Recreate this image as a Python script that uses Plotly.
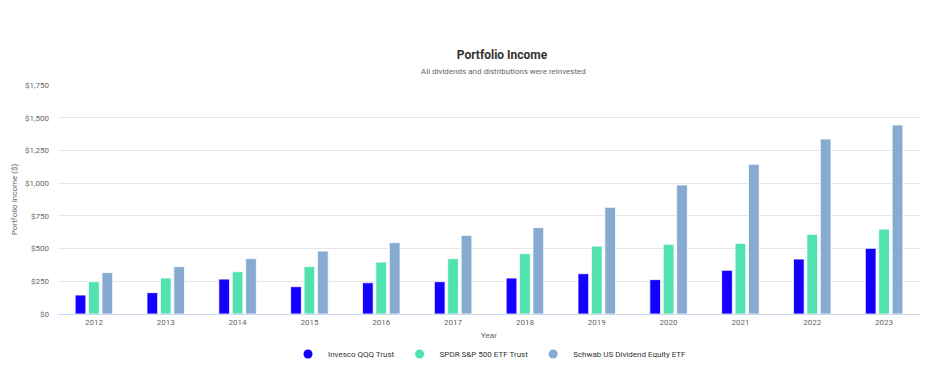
import plotly.graph_objects as go

years = ["2012", "2013", "2014", "2015", "2016", "2017", "2018", "2019", "2020", "2021", "2022", "2023"]
qqq = [145, 163, 267, 209, 239, 247, 275, 308, 263, 334, 420, 502]
spy = [247, 275, 323, 362, 397, 423, 461, 519, 533, 540, 609, 649]
schd = [316, 362, 423, 481, 545, 601, 660, 815, 986, 1144, 1337, 1444]
names = ["Invesco QQQ Trust", "SPDR S&P 500 ETF Trust", "Schwab US Dividend Equity ETF"]
colors = ["#1400ff", "#50e3b0", "#87aad0"]
tickvals = [0, 250, 500, 750, 1000, 1250, 1500, 1750]
ticktext = ["$0", "$250", "$500", "$750", "$1,000", "$1,250", "$1,500", "$1,750"]

fig = go.Figure()
for name, vals, col in zip(names, [qqq, spy, schd], colors):
    fig.add_trace(go.Bar(x=years, y=vals, name=name,
                         marker=dict(color=col, line=dict(color="rgba(255,255,255,0.8)", width=1)),
                         showlegend=False))
for name, col in zip(names, colors):
    fig.add_trace(go.Scatter(x=[None], y=[None], mode="markers", name=name,
                             marker=dict(symbol="circle", size=9, color=col)))

OFF = 8  # page body margin
W, H = 936, 365
PL, PR, PT, PB = 58 - OFF, 920 - OFF, 85 - OFF, 314 - OFF
ph = PB - PT
pw = PR - PL

fig.update_layout(
    width=W, height=H,
    paper_bgcolor="white", plot_bgcolor="white",
    font=dict(family="Roboto, sans-serif", size=8, color="#666666"),
    margin=dict(l=PL, r=W - PR, t=PT, b=H - PB, autoexpand=False),
    barmode="group", bargap=0.44, bargroupgap=0.2,
    title=dict(text="<b>Portfolio Income</b>", xref="paper", x=(502 - OFF - PL) / pw, xanchor="center",
               y=1 - (55 - OFF) / H, yanchor="middle",
               font=dict(family="Roboto, sans-serif", size=12, color="#333333")),
    annotations=[dict(text="All dividends and distributions were reinvested", xref="paper", yref="paper",
                      x=(503 - OFF - PL) / pw, y=1 + (PT - (71 - OFF)) / ph, xanchor="center", yanchor="middle",
                      showarrow=False, font=dict(size=8, color="#666666"))],
    legend=dict(orientation="h", xref="paper", x=(490 - OFF - PL) / pw, xanchor="center",
                y=-((354 - OFF) - PB) / ph, yanchor="middle",
                font=dict(size=8, color="#333333"), itemwidth=30),
    xaxis=dict(type="category", showgrid=False, showline=True, linecolor="#ccd6eb", linewidth=1,
               ticks="", tickfont=dict(size=8, color="#666666"), automargin=False,
               title=dict(text="Year", font=dict(size=8, color="#666666"), standoff=6)),
    yaxis=dict(range=[0, 1750], tickvals=tickvals, ticktext=ticktext, showgrid=True, gridcolor="#e6e6e6",
               zeroline=False, tickfont=dict(size=8, color="#666666"), ticklabelstandoff=8,
               automargin=False,
               title=dict(text="Portfolio Income ($)", font=dict(size=8, color="#666666"), standoff=6)),
)
fig.write_html("out.html")
